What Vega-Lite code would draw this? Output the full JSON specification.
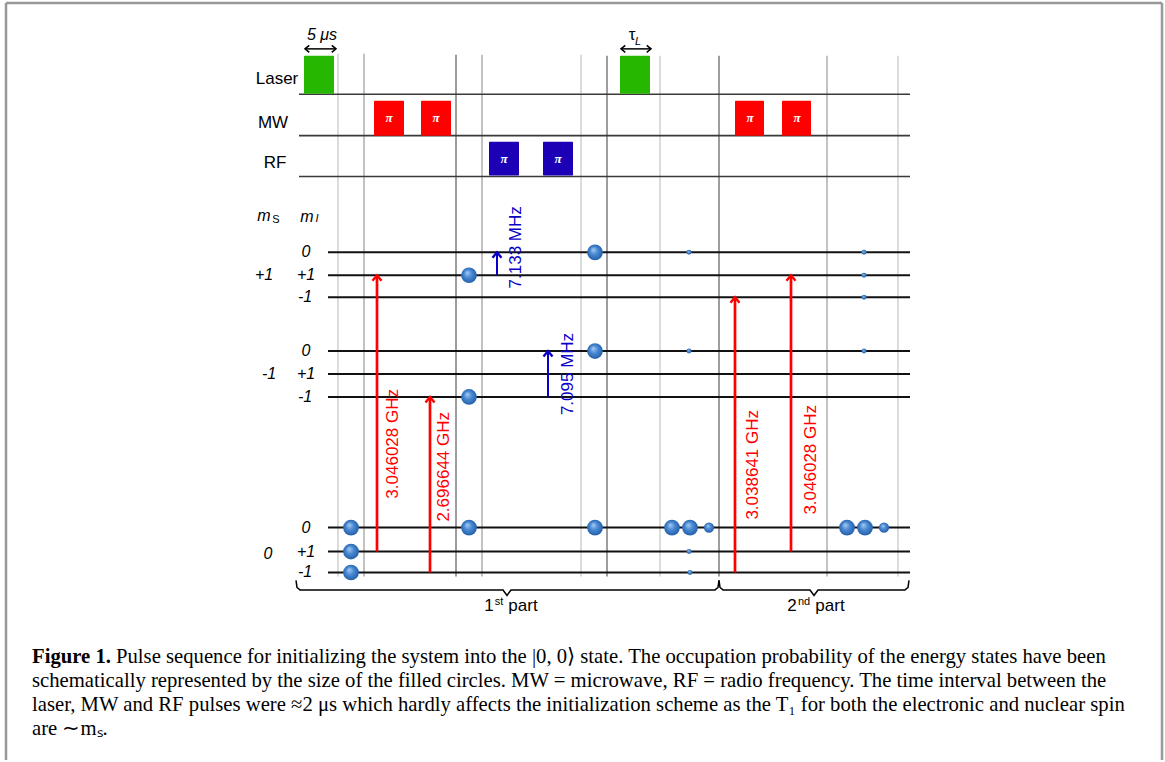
{
  "$schema": "https://vega.github.io/schema/vega-lite/v6.json",
  "width": 1165,
  "height": 762,
  "autosize": {"type": "fit", "contains": "padding"},
  "padding": 0,
  "background": "white",
  "config": {"view": {"stroke": null}},
  "datasets": {
    "frame": [
      {"t": 6, "e": 3, "t2": 6, "e2": 762},
      {"t": 6, "e": 3, "t2": 1162, "e2": 3},
      {"t": 1162, "e": 3, "t2": 1162, "e2": 762}
    ],
    "grid": [
      {"t": 338, "e": 54, "e2": 578, "tone": "light"}, {"t": 364, "e": 54, "e2": 578, "tone": "mid"},
      {"t": 456, "e": 55, "e2": 578, "tone": "dark"}, {"t": 482, "e": 55, "e2": 578, "tone": "mid"},
      {"t": 581, "e": 55, "e2": 578, "tone": "light"}, {"t": 607, "e": 56, "e2": 578, "tone": "dark"},
      {"t": 660, "e": 56, "e2": 578, "tone": "light"}, {"t": 719, "e": 56, "e2": 578, "tone": "dark"},
      {"t": 827, "e": 56, "e2": 578, "tone": "mid"}, {"t": 898, "e": 56, "e2": 578, "tone": "light"}
    ],
    "baselines": [
      {"channel": "Laser", "t": 299, "t2": 910, "e": 94.5},
      {"channel": "MW", "t": 299, "t2": 910, "e": 136},
      {"channel": "RF", "t": 299, "t2": 910, "e": 177}
    ],
    "levels": [
      {"ms": "+1", "mi": "0", "t": 328, "t2": 910, "e": 253},
      {"ms": "+1", "mi": "+1", "t": 328, "t2": 910, "e": 276},
      {"ms": "+1", "mi": "-1", "t": 328, "t2": 910, "e": 298},
      {"ms": "-1", "mi": "0", "t": 328, "t2": 910, "e": 352},
      {"ms": "-1", "mi": "+1", "t": 328, "t2": 910, "e": 375},
      {"ms": "-1", "mi": "-1", "t": 328, "t2": 910, "e": 398},
      {"ms": "0", "mi": "0", "t": 328, "t2": 910, "e": 529},
      {"ms": "0", "mi": "+1", "t": 328, "t2": 910, "e": 553},
      {"ms": "0", "mi": "-1", "t": 328, "t2": 910, "e": 574}
    ],
    "pulses": [
      {"channel": "Laser", "t": 304, "t2": 334, "e": 56, "e2": 94},
      {"channel": "MW", "t": 374, "t2": 404, "e": 101, "e2": 136},
      {"channel": "MW", "t": 421, "t2": 451, "e": 101, "e2": 136},
      {"channel": "RF", "t": 489, "t2": 519, "e": 142, "e2": 176},
      {"channel": "RF", "t": 543, "t2": 573, "e": 142, "e2": 176},
      {"channel": "Laser", "t": 620, "t2": 650, "e": 56, "e2": 94},
      {"channel": "MW", "t": 735, "t2": 764, "e": 101, "e2": 136},
      {"channel": "MW", "t": 782, "t2": 811, "e": 101, "e2": 136}
    ],
    "transitions": [
      {"kind": "MW", "t": 377, "e": 553, "e2": 276, "label": "3.046028 GHz", "lt": 393, "le": 445},
      {"kind": "MW", "t": 430, "e": 574, "e2": 398, "label": "2.696644 GHz", "lt": 444, "le": 468},
      {"kind": "RF", "t": 497, "e": 276, "e2": 253, "label": "7.133 MHz", "lt": 516, "le": 248},
      {"kind": "RF", "t": 548, "e": 398, "e2": 352, "label": "7.095 MHz", "lt": 568, "le": 375},
      {"kind": "MW", "t": 735, "e": 574, "e2": 298, "label": "3.038641 GHz", "lt": 753, "le": 466},
      {"kind": "MW", "t": 791, "e": 553, "e2": 276, "label": "3.046028 GHz", "lt": 811, "le": 461}
    ],
    "spheres": [
      {"t": 351, "e": 529, "occ": 1}, {"t": 351, "e": 553, "occ": 1}, {"t": 351, "e": 574, "occ": 1},
      {"t": 469, "e": 276, "occ": 1}, {"t": 469, "e": 398, "occ": 1}, {"t": 469, "e": 529, "occ": 1},
      {"t": 595, "e": 253, "occ": 1}, {"t": 595, "e": 352, "occ": 1}, {"t": 595, "e": 529, "occ": 1},
      {"t": 689, "e": 253, "occ": 0.1}, {"t": 689, "e": 352, "occ": 0.1},
      {"t": 672, "e": 529, "occ": 1}, {"t": 690, "e": 529, "occ": 1}, {"t": 709, "e": 529, "occ": 0.43},
      {"t": 689, "e": 553, "occ": 0.1}, {"t": 690, "e": 574, "occ": 0.1},
      {"t": 864, "e": 253, "occ": 0.1}, {"t": 864, "e": 276, "occ": 0.1}, {"t": 864, "e": 298, "occ": 0.1},
      {"t": 864, "e": 352, "occ": 0.1},
      {"t": 847, "e": 529, "occ": 1}, {"t": 865, "e": 529, "occ": 1}, {"t": 884, "e": 529, "occ": 0.43}
    ],
    "spans": [
      {"t": 305, "t2": 336, "e": 49},
      {"t": 621, "t2": 651, "e": 49}
    ],
    "brackets": [
      {"part": "1st", "o": 1, "t": 296, "e": 582}, {"part": "1st", "o": 2, "t": 297, "e": 589},
      {"part": "1st", "o": 3, "t": 300, "e": 591.5}, {"part": "1st", "o": 4, "t": 503, "e": 591.5},
      {"part": "1st", "o": 5, "t": 507, "e": 597}, {"part": "1st", "o": 6, "t": 511, "e": 591.5},
      {"part": "1st", "o": 7, "t": 715, "e": 591.5}, {"part": "1st", "o": 8, "t": 718, "e": 589},
      {"part": "1st", "o": 9, "t": 719, "e": 582},
      {"part": "2nd", "o": 1, "t": 719, "e": 582}, {"part": "2nd", "o": 2, "t": 720, "e": 589},
      {"part": "2nd", "o": 3, "t": 723, "e": 591.5}, {"part": "2nd", "o": 4, "t": 810, "e": 591.5},
      {"part": "2nd", "o": 5, "t": 814, "e": 597}, {"part": "2nd", "o": 6, "t": 818, "e": 591.5},
      {"part": "2nd", "o": 7, "t": 905, "e": 591.5}, {"part": "2nd", "o": 8, "t": 908, "e": 589},
      {"part": "2nd", "o": 9, "t": 909, "e": 582}
    ],
    "plainLabels": [
      {"text": "Laser", "t": 277, "e": 84},
      {"text": "MW", "t": 273, "e": 128},
      {"text": "RF", "t": 275, "e": 168},
      {"text": "1", "t": 489, "e": 613},
      {"text": "part", "t": 523, "e": 613},
      {"text": "2", "t": 792, "e": 613},
      {"text": "part", "t": 830, "e": 613},
      {"text": "τ", "t": 632, "e": 40}
    ],
    "supLabels": [
      {"text": "st", "t": 499, "e": 607},
      {"text": "nd", "t": 804, "e": 607},
      {"text": "S", "t": 276, "e": 224}
    ],
    "italicLabels": [
      {"text": "0", "t": 306, "e": 253}, {"text": "+1", "t": 306, "e": 276}, {"text": "-1", "t": 305, "e": 298},
      {"text": "0", "t": 306, "e": 352}, {"text": "+1", "t": 306, "e": 375}, {"text": "-1", "t": 305, "e": 398},
      {"text": "0", "t": 306, "e": 529}, {"text": "+1", "t": 306, "e": 553}, {"text": "-1", "t": 305, "e": 574},
      {"text": "+1", "t": 264, "e": 276}, {"text": "-1", "t": 269, "e": 375}, {"text": "0", "t": 268, "e": 555},
      {"text": "m", "t": 264, "e": 217}, {"text": "m", "t": 307, "e": 218},
      {"text": "5 μs", "t": 322, "e": 35}
    ],
    "italicSubs": [
      {"text": "I", "t": 317, "e": 220},
      {"text": "L", "t": 638, "e": 42}
    ],
    "captionBold": [
      {"text": "Figure 1.", "t": 32, "e": 665}
    ],
    "caption": [
      {"text": "Pulse sequence for initializing the system into the |0,  0⟩ state. The occupation probability of the energy states have been", "t": 116, "e": 665},
      {"text": "schematically represented by the size of the filled circles. MW = microwave, RF = radio frequency. The time interval between the", "t": 32, "e": 689},
      {"text": "laser, MW and RF pulses were ≈2 μs which hardly affects the initialization scheme as the T₁ for both the electronic and nuclear spin", "t": 32, "e": 713},
      {"text": "are ∼mₛ.", "t": 32, "e": 737}
    ]
  },
  "encoding": {
    "x": {"field": "t", "type": "quantitative", "scale": {"domain": [0, 1165]}, "axis": null},
    "y": {"field": "e", "type": "quantitative", "scale": {"domain": [0, 762], "reverse": true}, "axis": null}
  },
  "resolve": {"scale": {"color": "independent", "stroke": "independent", "fill": "independent", "size": "independent", "strokeWidth": "independent"}},
  "layer": [
    {
      "data": {"name": "frame"},
      "mark": {"type": "rule", "color": "#999999", "strokeWidth": 2.5},
      "encoding": {"x2": {"field": "t2"}, "y2": {"field": "e2"}}
    },
    {
      "data": {"name": "grid"},
      "mark": {"type": "rule", "strokeWidth": 1.2},
      "encoding": {
        "y2": {"field": "e2"},
        "stroke": {"field": "tone", "type": "nominal", "scale": {"domain": ["light", "mid", "dark"], "range": ["#c4c4c4", "#9a9a9a", "#5c5c5c"]}, "legend": null}
      }
    },
    {
      "data": {"name": "baselines"},
      "mark": {"type": "rule", "color": "#3a3a3a", "strokeWidth": 1.6},
      "encoding": {"x2": {"field": "t2"}}
    },
    {
      "data": {"name": "levels"},
      "mark": {"type": "rule", "color": "#111111", "strokeWidth": 2},
      "encoding": {"x2": {"field": "t2"}}
    },
    {
      "data": {"name": "pulses"},
      "mark": {"type": "rect", "cornerRadius": 1},
      "encoding": {
        "x2": {"field": "t2"},
        "y2": {"field": "e2"},
        "fill": {"field": "channel", "type": "nominal", "scale": {"domain": ["Laser", "MW", "RF"], "range": ["#26b800", "#ff0000", "#1c00b5"]}, "legend": null}
      }
    },
    {
      "data": {"name": "pulses"},
      "transform": [{"filter": "datum.channel !== 'Laser'"}],
      "mark": {"type": "text", "text": "π", "font": "Liberation Serif", "fontStyle": "italic", "fontWeight": "bold", "fontSize": 13, "color": "white", "dx": 15, "dy": 17, "align": "center", "baseline": "middle"}
    },
    {
      "data": {"name": "transitions"},
      "mark": {"type": "rule"},
      "encoding": {
        "y2": {"field": "e2"},
        "color": {"field": "kind", "type": "nominal", "scale": {"domain": ["MW", "RF"], "range": ["#ff0000", "#0a00c8"]}, "legend": null},
        "strokeWidth": {"field": "kind", "type": "nominal", "scale": {"domain": ["MW", "RF"], "range": [2.7, 2]}, "legend": null}
      }
    },
    {
      "data": {"name": "transitions"},
      "mark": {"type": "point", "shape": "M-0.9,1.1L0,0L0.9,1.1", "filled": false, "size": 100, "strokeWidth": 2.4, "opacity": 1},
      "encoding": {
        "y": {"field": "e2", "type": "quantitative"},
        "color": {"field": "kind", "type": "nominal", "scale": {"domain": ["MW", "RF"], "range": ["#ff0000", "#0a00c8"]}, "legend": null}
      }
    },
    {
      "data": {"name": "transitions"},
      "mark": {"type": "text", "angle": 270, "font": "Liberation Sans", "fontSize": 17, "align": "center", "baseline": "middle"},
      "encoding": {
        "x": {"field": "lt", "type": "quantitative"},
        "y": {"field": "le", "type": "quantitative"},
        "text": {"field": "label"},
        "color": {"field": "kind", "type": "nominal", "scale": {"domain": ["MW", "RF"], "range": ["#ff0000", "#0a00c8"]}, "legend": null}
      }
    },
    {
      "data": {"name": "spheres"},
      "mark": {
        "type": "point", "shape": "circle", "filled": true, "opacity": 1, "strokeWidth": 0,
        "fill": {"gradient": "radial", "x1": 0.38, "y1": 0.32, "r1": 0, "x2": 0.5, "y2": 0.5, "r2": 0.55,
          "stops": [{"offset": 0, "color": "#a8cdf3"}, {"offset": 0.45, "color": "#4a8ad4"}, {"offset": 1, "color": "#1f5aa3"}]}
      },
      "encoding": {
        "size": {"field": "occ", "type": "quantitative", "scale": {"domain": [0, 1], "range": [0, 246]}, "legend": null}
      }
    },
    {
      "data": {"name": "spans"},
      "mark": {"type": "rule", "color": "black", "strokeWidth": 1.5},
      "encoding": {"x2": {"field": "t2"}}
    },
    {
      "data": {"name": "spans"},
      "mark": {"type": "point", "shape": "M-0.9,1.1L0,0L0.9,1.1", "filled": false, "size": 60, "strokeWidth": 1.5, "color": "black", "opacity": 1, "angle": 270}
    },
    {
      "data": {"name": "spans"},
      "mark": {"type": "point", "shape": "M-0.9,1.1L0,0L0.9,1.1", "filled": false, "size": 60, "strokeWidth": 1.5, "color": "black", "opacity": 1, "angle": 90},
      "encoding": {"x": {"field": "t2", "type": "quantitative"}}
    },
    {
      "data": {"name": "brackets"},
      "mark": {"type": "line", "color": "black", "strokeWidth": 1.5},
      "encoding": {"detail": {"field": "part"}, "order": {"field": "o", "type": "quantitative"}}
    },
    {
      "data": {"name": "plainLabels"},
      "mark": {"type": "text", "font": "Liberation Sans", "fontSize": 17, "align": "center", "baseline": "alphabetic", "color": "black"},
      "encoding": {"text": {"field": "text"}}
    },
    {
      "data": {"name": "supLabels"},
      "mark": {"type": "text", "font": "Liberation Sans", "fontSize": 11, "align": "center", "baseline": "alphabetic", "color": "black"},
      "encoding": {"text": {"field": "text"}}
    },
    {
      "data": {"name": "italicLabels"},
      "mark": {"type": "text", "font": "Liberation Sans", "fontStyle": "italic", "fontSize": 16, "align": "center", "baseline": "middle", "color": "black"},
      "encoding": {"text": {"field": "text"}}
    },
    {
      "data": {"name": "italicSubs"},
      "mark": {"type": "text", "font": "Liberation Sans", "fontStyle": "italic", "fontSize": 11, "align": "center", "baseline": "middle", "color": "black"},
      "encoding": {"text": {"field": "text"}}
    },
    {
      "data": {"name": "captionBold"},
      "mark": {"type": "text", "font": "Liberation Serif", "fontWeight": "bold", "fontSize": 20.7, "align": "left", "baseline": "alphabetic", "color": "black"},
      "encoding": {"text": {"field": "text"}}
    },
    {
      "data": {"name": "caption"},
      "mark": {"type": "text", "font": "Liberation Serif", "fontSize": 20.7, "align": "left", "baseline": "alphabetic", "color": "black"},
      "encoding": {"text": {"field": "text"}}
    }
  ]
}
